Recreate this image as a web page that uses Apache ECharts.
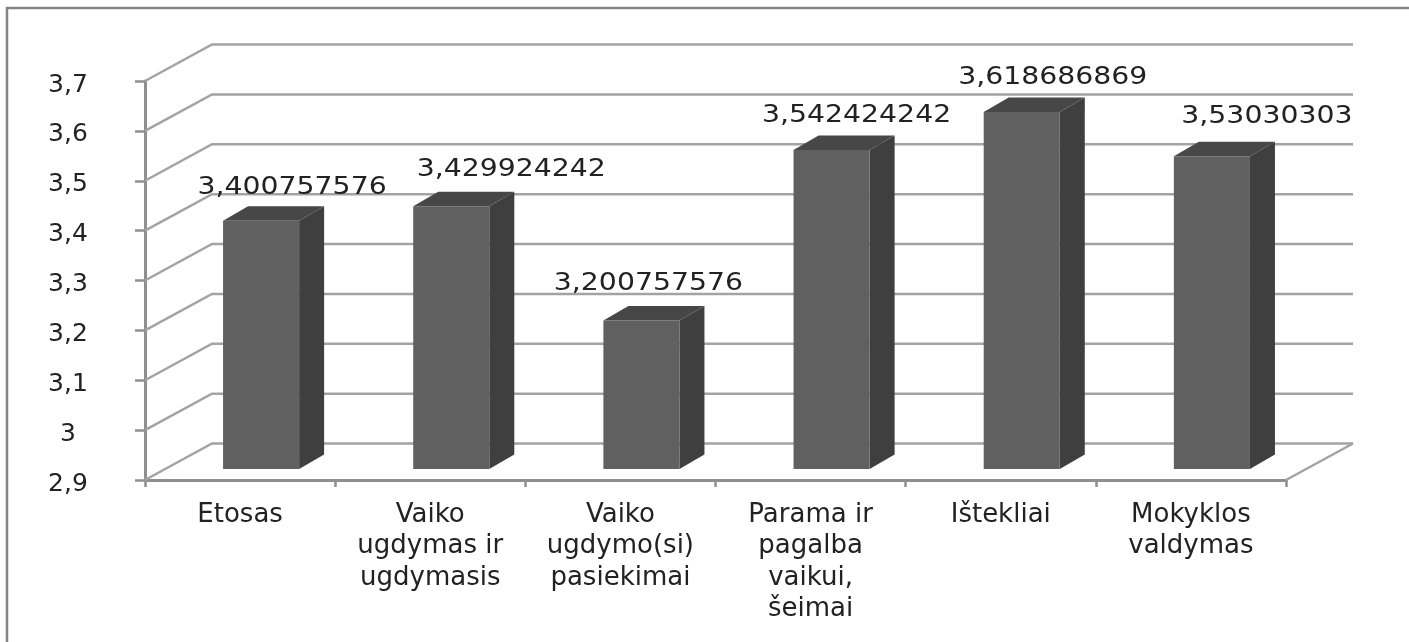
<!DOCTYPE html>
<html>
<head>
<meta charset="utf-8">
<style>
  html, body { margin: 0; padding: 0; background: #fff; }
  #chart { width: 1409px; height: 642px; }
</style>
</head>
<body>
<div id="chart"></div>
<script src="https://cdn.jsdelivr.net/npm/echarts@6/dist/echarts.min.js"></script>
<script>
const categories = [
  'Etosas',
  'Vaiko\nugdymas ir\nugdymasis',
  'Vaiko\nugdymo(si)\npasiekimai',
  'Parama ir\npagalba\nvaikui,\nšeimai',
  'Ištekliai',
  'Mokyklos\nvaldymas'
];
const values = [3.400757576, 3.429924242, 3.200757576, 3.542424242, 3.618686869, 3.53030303];
const yTicks = [2.9, 3, 3.1, 3.2, 3.3, 3.4, 3.5, 3.6, 3.7];

// fake 3d look, all in px
const wallDx = 67, wallDy = -36.5;
const barDx = 21, barDy = -11, sideDx = 25, sideDy = -14.5;
const barRatio = 0.4;
// hand placed labels (the original ones are not centred on the bars)
const labelDx = [31, 60, 7, 25, 31, 55];
const labelDy = [-33, -36, -37, -34, -34, -39];

const font = '"DejaVu Sans", sans-serif';
const textColor = '#222222';
const comma = v => String(v).replace('.', ',');

function renderWall(params, api) {
  const cs = params.coordSys;
  const y = api.coord([0, api.value(0)])[1];
  const left = cs.x, right = cs.x + cs.width;
  const style = { stroke: '#a3a3a3', lineWidth: 2.5, fill: 'none' };
  const children = [{
    type: 'polyline',
    shape: { points: [[left, y], [left + wallDx, y + wallDy], [right + wallDx, y + wallDy]] },
    style
  }];
  // floor edge on the right side
  if (params.dataIndex === 0) {
    children.push({
      type: 'line',
      shape: { x1: right, y1: y, x2: right + wallDx, y2: y + wallDy },
      style
    });
  }
  return { type: 'group', children };
}

function renderBar(params, api) {
  const i = api.value(0);
  const band = api.size([1, 0])[0];
  const w = band * barRatio;
  const top = api.coord([i, api.value(1)]);
  const base = api.coord([i, yTicks[0]]);
  const x0 = top[0] + barDx - w / 2;
  const x1 = x0 + w;
  const yTop = top[1] + barDy + 1.5;
  const yBase = base[1] + barDy;
  return {
    type: 'group',
    children: [
      {
        type: 'polygon',
        shape: { points: [[x1, yTop], [x1 + sideDx, yTop + sideDy], [x1 + sideDx, yBase + sideDy], [x1, yBase]] },
        style: { fill: '#3f3f3f' }
      },
      {
        type: 'polygon',
        shape: { points: [[x0, yTop], [x0 + sideDx, yTop + sideDy], [x1 + sideDx, yTop + sideDy], [x1, yTop]] },
        style: { fill: '#474747' }
      },
      {
        type: 'rect',
        shape: { x: x0, y: yTop, width: w, height: yBase - yTop },
        style: { fill: '#606060' }
      },
      {
        // the source picture is stretched sideways, hence scaleX
        type: 'text',
        x: x0 + w / 2 + labelDx[params.dataIndex],
        y: yTop + labelDy[params.dataIndex],
        scaleX: 1.18,
        style: {
          x: 0,
          y: 0,
          text: comma(api.value(1)),
          align: 'center',
          verticalAlign: 'middle',
          fill: textColor,
          font: '24px ' + font
        }
      }
    ]
  };
}

const myChart = echarts.init(document.getElementById('chart'));
myChart.setOption({
  animation: false,
  grid: { left: 145, right: 123, top: 81, bottom: 162 },
  xAxis: {
    type: 'category',
    data: categories,
    axisLine: { lineStyle: { color: '#8f8f8f', width: 3 } },
    axisTick: { show: true, alignWithLabel: false, length: 7, lineStyle: { color: '#8f8f8f', width: 2.5 } },
    axisLabel: {
      interval: 0,
      margin: 19,
      color: textColor,
      fontSize: 26,
      lineHeight: 31.5,
      fontFamily: font
    }
  },
  yAxis: {
    type: 'value',
    min: 2.9,
    max: 3.7,
    interval: 0.1,
    splitLine: { show: false },
    axisLine: { show: true, lineStyle: { color: '#8f8f8f', width: 3 } },
    axisTick: { show: true, length: 10, lineStyle: { color: '#8f8f8f', width: 2.5 } },
    axisLabel: {
      margin: 77,
      align: 'center',
      // sits a little below the tick in the source
      verticalAlign: 'top',
      lineHeight: 8,
      color: textColor,
      fontSize: 25,
      fontFamily: font,
      formatter: comma
    }
  },
  graphic: [{
    type: 'polyline',
    silent: true,
    shape: { points: [[7, 642], [7, 8], [1409, 8]] },
    style: { stroke: '#858585', lineWidth: 2.5, fill: 'none' }
  }],
  series: [
    {
      type: 'custom',
      silent: true,
      clip: false,
      z: 1,
      renderItem: renderWall,
      encode: { y: 0 },
      data: yTicks.map(v => [v])
    },
    {
      type: 'custom',
      silent: true,
      clip: false,
      z: 2,
      renderItem: renderBar,
      encode: { x: 0, y: 1 },
      data: values.map((v, i) => [i, v])
    }
  ]
});
</script>
</body>
</html>
